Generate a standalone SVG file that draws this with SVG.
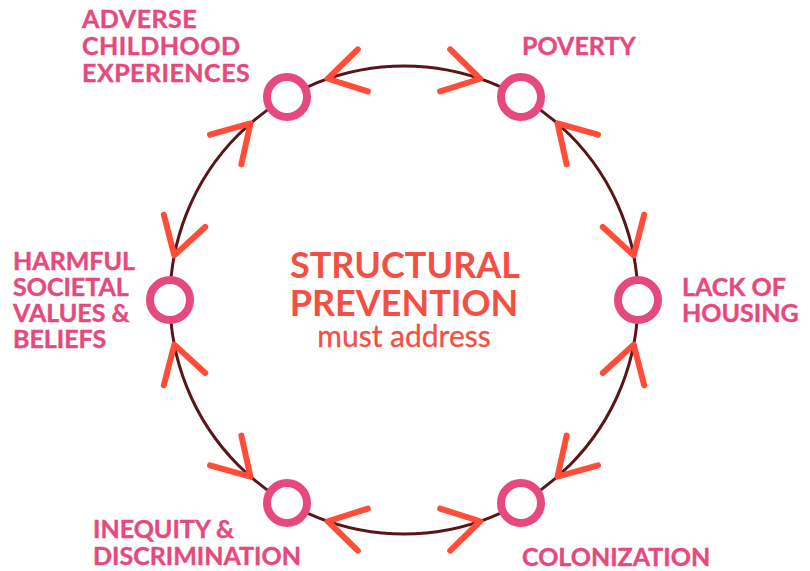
<svg xmlns="http://www.w3.org/2000/svg" xmlns:xlink="http://www.w3.org/1999/xlink" width="810" height="571" viewBox="0 0 810 571">
<style>
.ring{fill:#ffffff;stroke:#e6497b;stroke-width:8}
.loop{fill:none;stroke:#5a1518;stroke-width:3}
.chev{fill:none;stroke:#ff4d3a;stroke-width:6;stroke-linecap:round;stroke-linejoin:round}
.lbl{font-family:Lato,"Liberation Sans",sans-serif;font-weight:700;font-size:25px;fill:#e6497b;stroke:#e6497b;stroke-width:0.4}
.title{font-family:Lato,"Liberation Sans",sans-serif;font-weight:700;font-size:36px;fill:#f44f43;text-anchor:middle}
.sub{font-family:Lato,"Liberation Sans",sans-serif;font-weight:400;font-size:30px;fill:#f44f43;stroke:#f44f43;stroke-width:0.3;text-anchor:middle}
</style>
<defs>
<path id="chev" class="chev" d="M36,-21.6 L0,0 L36,21.6"/>
</defs>
<rect width="810" height="571" fill="#ffffff"/>
<g id="connectors">
<circle class="loop" cx="404" cy="300" r="234"/>
<g transform="translate(404 300)">
<use xlink:href="#chev" transform="rotate(-109) translate(234 0) rotate(95.5)"/>
<use xlink:href="#chev" transform="rotate(-49) translate(234 0) rotate(95.5)"/>
<use xlink:href="#chev" transform="rotate(11) translate(234 0) rotate(95.5)"/>
<use xlink:href="#chev" transform="rotate(71) translate(234 0) rotate(95.5)"/>
<use xlink:href="#chev" transform="rotate(131) translate(234 0) rotate(95.5)"/>
<use xlink:href="#chev" transform="rotate(191) translate(234 0) rotate(95.5)"/>
<use xlink:href="#chev" transform="rotate(-131) translate(234 0) rotate(-95.5)"/>
<use xlink:href="#chev" transform="rotate(-71) translate(234 0) rotate(-95.5)"/>
<use xlink:href="#chev" transform="rotate(-11) translate(234 0) rotate(-95.5)"/>
<use xlink:href="#chev" transform="rotate(49) translate(234 0) rotate(-95.5)"/>
<use xlink:href="#chev" transform="rotate(109) translate(234 0) rotate(-95.5)"/>
<use xlink:href="#chev" transform="rotate(169) translate(234 0) rotate(-95.5)"/>
</g>
</g>
<g id="center">
<text class="title" x="405" y="278">STRUCTURAL</text>
<text class="title" x="404" y="316">PREVENTION</text>
<text class="sub" x="404" y="347">must address</text>
</g>
<g id="node-ace">
<circle class="ring" cx="287" cy="97" r="20"/>
<text class="lbl" x="82" y="28" letter-spacing="0.5">ADVERSE</text>
<text class="lbl" x="82" y="55" letter-spacing="0.5">CHILDHOOD</text>
<text class="lbl" x="82" y="82" letter-spacing="0.5">EXPERIENCES</text>
</g>
<g id="node-poverty">
<circle class="ring" cx="521" cy="97" r="20"/>
<text class="lbl" x="522" y="55">POVERTY</text>
</g>
<g id="node-housing">
<circle class="ring" cx="638" cy="300" r="20"/>
<text class="lbl" x="682" y="296">LACK OF</text>
<text class="lbl" x="682" y="322">HOUSING</text>
</g>
<g id="node-colonization">
<circle class="ring" cx="521" cy="503" r="20"/>
<text class="lbl" x="522" y="566">COLONIZATION</text>
</g>
<g id="node-inequity">
<circle class="ring" cx="287" cy="503" r="20"/>
<text class="lbl" x="93" y="538">INEQUITY &amp;</text>
<text class="lbl" x="93" y="565">DISCRIMINATION</text>
</g>
<g id="node-harmful">
<circle class="ring" cx="170" cy="300" r="20"/>
<text class="lbl" x="13" y="270">HARMFUL</text>
<text class="lbl" x="13" y="296">SOCIETAL</text>
<text class="lbl" x="13" y="322">VALUES &amp;</text>
<text class="lbl" x="13" y="348">BELIEFS</text>
</g>
</svg>
